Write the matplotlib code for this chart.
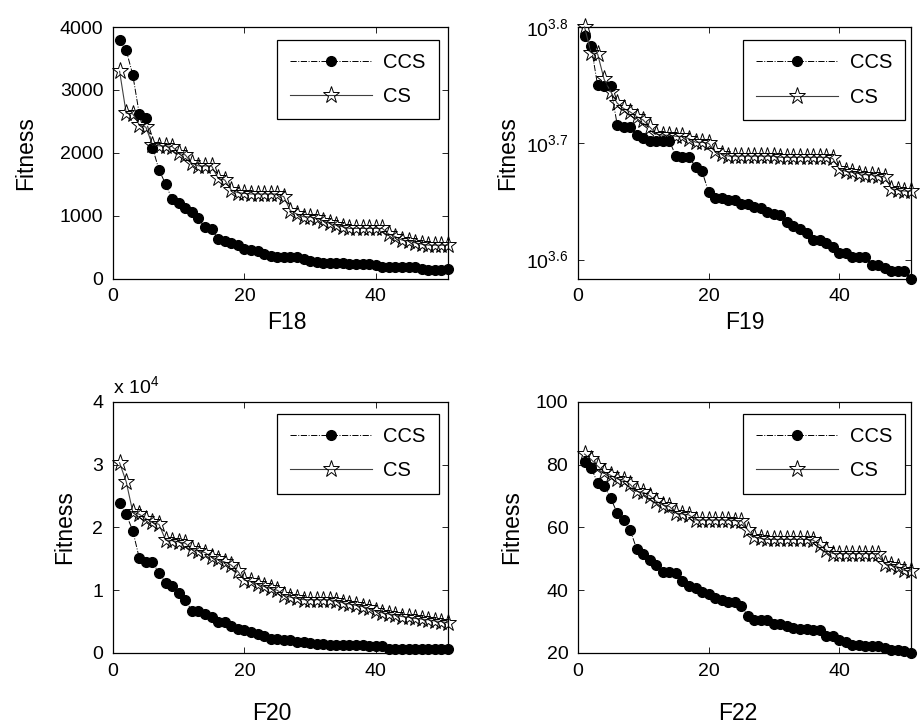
import numpy as np
import matplotlib
matplotlib.use('Agg')
import matplotlib.pyplot as plt
from matplotlib.ticker import FixedLocator, NullLocator, FuncFormatter

plt.rcParams['font.family'] = ['Liberation Sans', 'DejaVu Sans']
plt.rcParams['mathtext.fontset'] = 'custom'
plt.rcParams['mathtext.rm'] = 'Liberation Sans'
plt.rcParams['mathtext.it'] = 'Liberation Sans:italic'

# iteration index
iters = np.arange(1, 52)

# best fitness per iteration, CCS vs CS
f18_ccs = [3790, 3631, 3243, 2616, 2552, 2085, 1729, 1506, 1262, 1208,
           1118, 1065, 959, 815, 783, 635, 603, 571, 534, 470,
           458, 448, 401, 362, 353, 348, 342, 338, 306, 285,
           268, 252, 252, 250, 245, 231, 231, 229, 229, 225,
           188, 188, 188, 186, 186, 186, 150, 146, 146, 146, 150]
f18_cs = [3296, 2632, 2621, 2446, 2409, 2127, 2112, 2112, 2101, 1995,
          1968, 1835, 1793, 1793, 1793, 1596, 1570, 1410, 1368, 1357,
          1347, 1347, 1347, 1347, 1347, 1304, 1081, 1028, 985, 985,
          959, 922, 879, 853, 826, 800, 800, 800, 800, 800,
          800, 709, 667, 614, 603, 571, 550, 534, 534, 534, 534]

f19_ccs = [6194, 6081, 5623, 5610, 5610, 5200, 5176, 5176, 5093, 5070,
           5035, 5035, 5035, 5035, 4887, 4875, 4875, 4786, 4742, 4550,
           4498, 4498, 4477, 4477, 4446, 4446, 4416, 4406, 4375, 4355,
           4345, 4285, 4256, 4227, 4198, 4140, 4140, 4111, 4083, 4036,
           4036, 3999, 3999, 3999, 3936, 3936, 3917, 3890, 3890, 3890, 3833]
f19_cs = [6310, 5998, 5984, 5689, 5553, 5427, 5370, 5333, 5284, 5248,
          5176, 5105, 5093, 5093, 5082, 5082, 5058, 5023, 5023, 5012,
          4932, 4909, 4887, 4887, 4887, 4887, 4887, 4887, 4887, 4887,
          4875, 4875, 4875, 4875, 4875, 4875, 4875, 4875, 4864, 4764,
          4742, 4732, 4721, 4710, 4710, 4699, 4688, 4581, 4571, 4560, 4560]

f20_ccs = [23900, 22100, 19500, 15100, 14500, 14500, 12700, 11200, 10700, 9500,
           8500, 6700, 6700, 6200, 5800, 5000, 5000, 4300, 3900, 3700,
           3400, 3100, 2700, 2200, 2200, 2000, 2000, 1800, 1800, 1600,
           1500, 1400, 1300, 1300, 1300, 1200, 1200, 1200, 1100, 1100,
           1100, 700, 700, 700, 700, 700, 700, 700, 700, 700, 700]
f20_cs = [30300, 27300, 22500, 22100, 21400, 20800, 20500, 18000, 17900, 17700,
          17500, 16500, 16300, 16000, 15300, 14900, 14500, 14000, 13000, 11600,
          11400, 11000, 10600, 10300, 10000, 9200, 8900, 8700, 8500, 8500,
          8500, 8500, 8500, 8300, 8000, 7800, 7600, 7400, 7100, 6700,
          6400, 6200, 6100, 5800, 5700, 5500, 5400, 5300, 5100, 5000, 4800]

f22_ccs = [80.9, 79.1, 74.2, 73.2, 69.4, 64.6, 62.4, 59.2, 53.0, 51.5,
           49.5, 47.9, 45.8, 45.8, 45.4, 42.9, 41.2, 40.7, 39.3, 38.8,
           37.5, 36.9, 36.1, 36.1, 35.0, 31.8, 30.4, 30.4, 30.4, 29.1,
           29.1, 28.6, 28.1, 27.8, 27.5, 27.2, 27.2, 25.4, 25.4, 24.0,
           23.5, 22.7, 22.7, 22.1, 22.1, 22.1, 21.6, 21.1, 21.1, 20.5, 20.0]
f22_cs = [83.4, 81.7, 79.6, 77.7, 76.6, 75.5, 75.1, 73.7, 71.5, 71.2,
          70.1, 68.3, 67.2, 66.7, 64.6, 64.3, 64.0, 62.4, 62.4, 62.4,
          62.4, 62.4, 62.4, 62.2, 62.2, 59.2, 57.0, 56.5, 56.2, 56.2,
          56.2, 56.2, 56.2, 56.2, 56.2, 56.0, 54.4, 52.8, 51.7, 51.7,
          51.7, 51.7, 51.7, 51.7, 51.7, 51.7, 48.5, 47.9, 47.4, 46.3, 46.1]

fig = plt.figure(figsize=(9.22, 7.27), dpi=100)

# axes rectangles [left, bottom, width, height] in figure fraction
ax18 = fig.add_axes([0.1226, 0.6166, 0.3633, 0.3462])
ax19 = fig.add_axes([0.6269, 0.6166, 0.3612, 0.3462])
ax20 = fig.add_axes([0.1226, 0.1018, 0.3633, 0.3453])
ax22 = fig.add_axes([0.6269, 0.1018, 0.3612, 0.3453])

panels = [
    (ax18, f18_ccs, f18_cs, 'F18', (0.973, 0.950)),
    (ax19, f19_ccs, f19_cs, 'F19', (0.982, 0.947)),
    (ax20, f20_ccs, f20_cs, 'F20', (0.973, 0.951)),
    (ax22, f22_ccs, f22_cs, 'F22', (0.982, 0.951)),
]

for ax, ccs, cs, name, leg_pos in panels:
    ax.plot(iters, ccs, color='black', linestyle='-.', linewidth=0.7,
            marker='o', markersize=7, markerfacecolor='black',
            markeredgecolor='black', label='CCS', clip_on=False, zorder=3)
    ax.plot(iters, cs, color='0.25', linestyle='-', linewidth=0.8,
            marker='*', markersize=12.5, markerfacecolor='none',
            markeredgecolor='black', markeredgewidth=0.7, label='CS',
            clip_on=False, zorder=4)
    ax.set_xlim(0, 51)
    ax.set_xticks([0, 20, 40])
    ax.tick_params(direction='in', top=True, right=True, length=4,
                   width=0.6, labelsize=14, pad=7)
    for sp in ax.spines.values():
        sp.set_linewidth(0.9)
    ax.set_ylabel('Fitness', fontsize=16.5)
    ax.set_xlabel(name, fontsize=16.5)
    leg = ax.legend(loc='upper right', bbox_to_anchor=leg_pos, borderaxespad=0,
                    fontsize=14.5, handlelength=4.1, handletextpad=0.55,
                    borderpad=0.65, labelspacing=0.75, fancybox=False,
                    framealpha=1, edgecolor='black', numpoints=1)
    leg.get_frame().set_linewidth(0.9)

ax18.set_ylim(0, 4000)
ax18.set_yticks([0, 1000, 2000, 3000, 4000])

ax19.set_yscale('log')
ax19.set_ylim(min(f19_ccs), max(f19_cs))
ax19.yaxis.set_major_locator(FixedLocator([10 ** 3.6, 10 ** 3.7, 10 ** 3.8]))
ax19.yaxis.set_minor_locator(NullLocator())
ax19.yaxis.set_major_formatter(FuncFormatter(lambda v, p: r'$10^{%.1f}$' % np.log10(v)))

ax20.set_ylim(0, 40000)
ax20.set_yticks([0, 10000, 20000, 30000, 40000])
ax20.yaxis.set_major_formatter(FuncFormatter(lambda v, p: '%d' % round(v / 1e4)))
ax20.text(0.0, 1.02, r'x 10$^4$', transform=ax20.transAxes, fontsize=14,
          ha='left', va='bottom')

ax22.set_ylim(20, 100)
ax22.set_yticks([20, 40, 60, 80, 100])

# label placement in axes fraction
ax18.yaxis.set_label_coords(-0.227, 0.5)
ax20.yaxis.set_label_coords(-0.11, 0.5)
ax19.yaxis.set_label_coords(-0.177, 0.5)
ax22.yaxis.set_label_coords(-0.165, 0.5)
ax18.xaxis.set_label_coords(0.518, -0.127)
ax19.xaxis.set_label_coords(0.5, -0.127)
ax20.xaxis.set_label_coords(0.475, -0.195)
ax22.xaxis.set_label_coords(0.48, -0.195)

fig.savefig('out.png', dpi=100)
